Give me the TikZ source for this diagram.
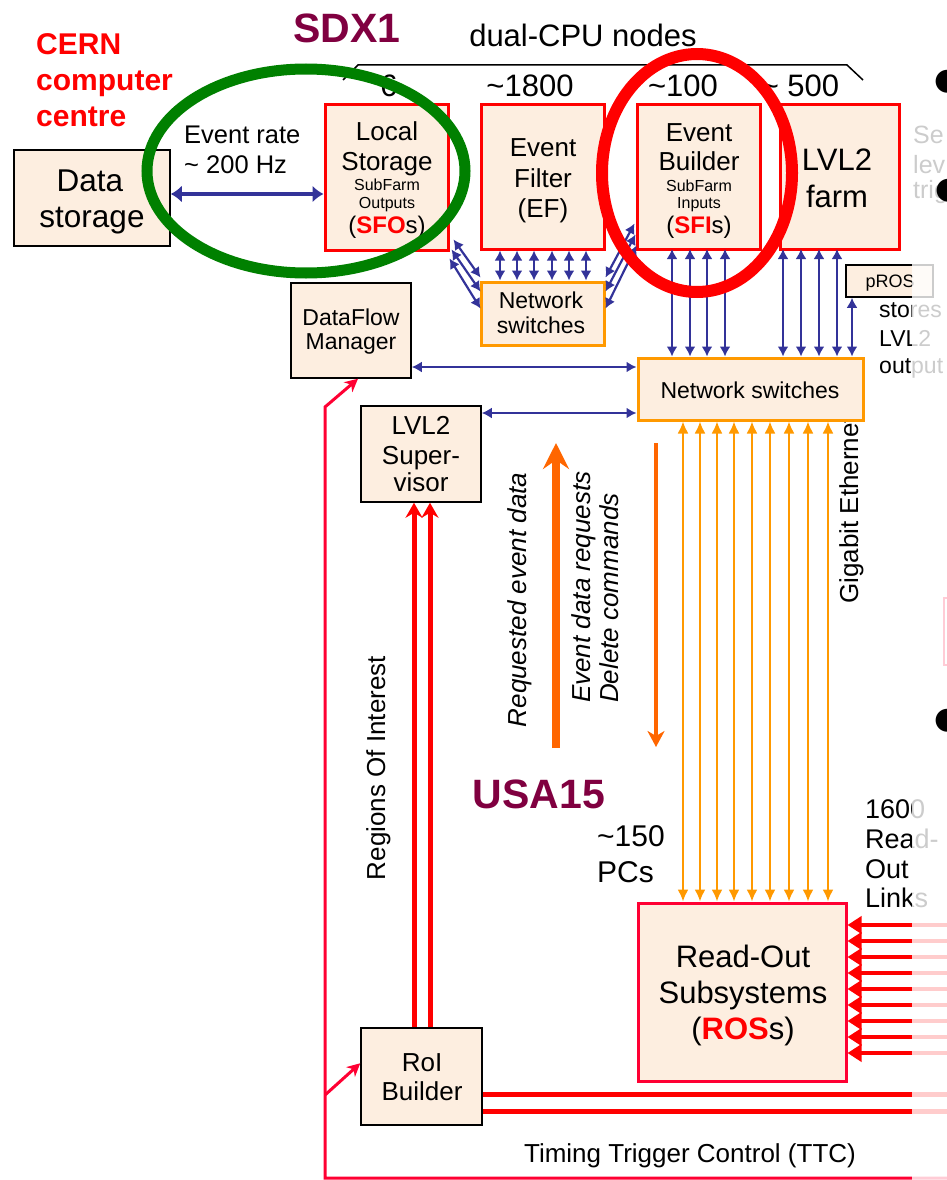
\documentclass[tikz,border=0pt]{standalone}
\usepackage{fontspec}
\setmainfont{Liberation Sans}
\newfontfamily\dejavu{DejaVu Sans}
\usetikzlibrary{arrows.meta,calc}
\definecolor{peach}{RGB}{253,238,224}
\definecolor{dblue}{RGB}{51,51,153}
\definecolor{orng}{RGB}{255,153,0}
\definecolor{dorng}{RGB}{255,102,0}
\definecolor{crim}{RGB}{255,0,51}
\definecolor{maroonc}{RGB}{128,0,64}
\definecolor{dgreen}{RGB}{0,128,0}
\newcommand\fsz[1]{\fontsize{#1}{#1}\selectfont}
\begin{document}
\begin{tikzpicture}[x=1pt,y=-1pt,
  box/.style={draw=black, fill=peach, line width=1.5pt, inner sep=0pt},
  redbox/.style={box, draw=red, line width=3pt},
  orbox/.style={box, draw=orng, line width=3pt},
  rosbox/.style={box, draw=crim, line width=3pt},
  txt/.style={inner sep=0pt, anchor=base},
  barrow/.style={draw=dblue, line width=2.2pt, arrows={Latex[length=10pt,width=11pt]-Latex[length=10pt,width=11pt]}},
  oarrow/.style={draw=orng, line width=2pt, arrows={Latex[length=12pt,width=11pt]-Latex[length=12pt,width=11pt]}},
  linkarrow/.style={draw=red, line width=4pt, arrows={-Triangle[length=14pt,width=17pt]}},
  roiarrow/.style={draw=red, line width=5pt, arrows={-Stealth[length=15pt,width=17pt,inset=5pt]}},
  ttcline/.style={draw=crim, line width=3pt},
]
\useasboundingbox (0,0) rectangle (947,1180);
\clip (0,0) rectangle (947,1180);

% ---------- headings ----------
\node[txt, anchor=base west, font=\fsz{30}\bfseries, text=red] (cern1) at (36,55) {CERN};
\node[txt, anchor=base west, font=\fsz{30}\bfseries, text=red] (cern2) at (36,91) {computer};
\node[txt, anchor=base west, font=\fsz{30}\bfseries, text=red] (cern3) at (36,127) {centre};
\node[txt, font=\fsz{41}\bfseries, text=maroonc] (sdx) at (347,43) {SDX1};
\node[txt, font=\fsz{31}] (dual) at (583,47) {dual-CPU nodes};
\draw[line width=1.5pt] (343,80) -- (358,65) -- (847,65) -- (863,80);
\node[txt, font=\fsz{31}] (n6) at (389,97) {6};
\node[txt, font=\fsz{31}] (n1800) at (530,97) {\textasciitilde1800};
\node[txt, font=\fsz{31}] (n100) at (683,97) {\textasciitilde100};
\node[txt, font=\fsz{31}] (n500) at (800,97) {\textasciitilde{} 500};
\node[txt, anchor=base west, font=\fsz{25.5}] (er1) at (184,143) {Event rate};
\node[txt, anchor=base west, font=\fsz{25.5}] (er2) at (184,173) {\textasciitilde{} 200 Hz};

% ---------- boxes ----------
\node[box, minimum width=156pt, minimum height=96pt] (ds) at (92,198) {};
\node[txt, font=\fsz{31.5}] (ds1) at (90,191) {Data};
\node[txt, font=\fsz{31.5}] (ds2) at (92,227) {storage};

\node[redbox, minimum width=123pt, minimum height=145pt] (sfo) at (386.5,177.5) {};
\node[txt, font=\fsz{26}] (sfo1) at (387,140) {Local};
\node[txt, font=\fsz{26}] (sfo2) at (387,170) {Storage};
\node[txt, font=\fsz{16}] (sfo3) at (387,190) {SubFarm};
\node[txt, font=\fsz{16}] (sfo4) at (387,208) {Outputs};
\node[txt, font=\fsz{24}] (sfo5) at (387,233) {({\bfseries\color{red}SFO}s)};

\node[redbox, minimum width=123pt, minimum height=144pt] (ef) at (542.5,177) {};
\node[txt, font=\fsz{26}] (ef1) at (543,157) {Event};
\node[txt, font=\fsz{26}] (ef2) at (543,187) {Filter};
\node[txt, font=\fsz{26}] (ef3) at (543,217) {(EF)};

\node[redbox, minimum width=123pt, minimum height=144pt] (eb) at (698.5,177) {};
\node[txt, font=\fsz{26}] (eb1) at (699,142) {Event};
\node[txt, font=\fsz{26}] (eb2) at (699,170) {Builder};
\node[txt, font=\fsz{16}] (eb3) at (699,191) {SubFarm};
\node[txt, font=\fsz{16}] (eb4) at (699,208) {Inputs};
\node[txt, font=\fsz{24}] (eb5) at (699,233) {({\bfseries\color{red}SFI}s)};

\node[redbox, minimum width=119pt, minimum height=144pt] (l2f) at (839.5,177) {};
\node[txt, font=\fsz{31}] (l2f1) at (837,170) {LVL2};
\node[txt, font=\fsz{31}] (l2f2) at (837,207) {farm};

\node[orbox, minimum width=123pt, minimum height=63pt] (ns1) at (542.5,313.5) {};
\node[txt, font=\fsz{23}] (ns1a) at (541,308) {Network};
\node[txt, font=\fsz{23}] (ns1b) at (541,333) {switches};

\node[box, minimum width=120pt, minimum height=95pt] (dfm) at (351,330.5) {};
\node[txt, font=\fsz{23}] (dfm1) at (351,325) {DataFlow};
\node[txt, font=\fsz{23}] (dfm2) at (351,349) {Manager};

\node[box, minimum width=87pt, minimum height=32pt] (pros) at (889.5,281) {};
\node[txt, font=\fsz{18}] (pros1) at (890,287) {pROS};
\node[txt, anchor=base west, font=\fsz{23}] (st1) at (879,317) {stores};
\node[txt, anchor=base west, font=\fsz{23}] (st2) at (879,346) {LVL2};
\node[txt, anchor=base west, font=\fsz{23}] (st3) at (879,373) {output};

% Gigabit Ethernet (partly hidden behind the switch box)
\node[txt, anchor=base west, rotate=90, font=\fsz{26}] (gig) at (858,604) {Gigabit Ethernet};

\node[orbox, minimum width=225pt, minimum height=62pt] (ns2) at (750.5,389) {};
\node[txt, font=\fsz{23}] (ns2a) at (750,398) {Network switches};

\node[box, minimum width=120pt, minimum height=96pt] (sup) at (421,454) {};
\node[txt, font=\fsz{26}] (sup1) at (421,434) {LVL2};
\node[txt, font=\fsz{26}] (sup2) at (421,464) {Super-};
\node[txt, font=\fsz{26}] (sup3) at (421,491) {visor};

\node[rosbox, minimum width=208pt, minimum height=178pt] (ros) at (742,992) {};
\node[txt, font=\fsz{31}] (ros1) at (743,967) {Read-Out};
\node[txt, font=\fsz{31}] (ros2) at (743,1003) {Subsystems};
\node[txt, font=\fsz{31}] (ros3) at (743,1039) {({\bfseries\color{red}ROS}s)};

\node[box, minimum width=121pt, minimum height=97pt] (rob) at (421.5,1076.5) {};
\node[txt, font=\fsz{26}] (rob1) at (422,1071) {RoI};
\node[txt, font=\fsz{26}] (rob2) at (422,1100) {Builder};

% ---------- other labels ----------
\node[txt, rotate=90, font=\fsz{26}\itshape] (req) at (526,600) {Requested event data};
\node[txt, anchor=base west, rotate=90, font=\fsz{26}\itshape] (edr1) at (590,703) {Event data requests};
\node[txt, anchor=base west, rotate=90, font=\fsz{26}\itshape] (edr2) at (618,703) {Delete commands};
\node[txt, rotate=90, font=\fsz{26}] (roi) at (385,768) {Regions Of Interest};
\node[txt, font=\fsz{41}\bfseries, text=maroonc] (usa) at (539,808) {USA15};
\node[txt, anchor=base west, font=\fsz{30}] (pc1) at (597,846) {\textasciitilde150};
\node[txt, anchor=base west, font=\fsz{30}] (pc2) at (597,882) {PCs};
\node[txt, anchor=base west, font=\fsz{27}] (rl1) at (865,818) {1600};
\node[txt, anchor=base west, font=\fsz{27}] (rl2) at (865,848) {Read-};
\node[txt, anchor=base west, font=\fsz{27}] (rl3) at (865,878) {Out};
\node[txt, anchor=base west, font=\fsz{27}] (rl4) at (865,907) {Links};
\node[txt, font=\fsz{26}] (ttc) at (690,1162) {Timing Trigger Control (TTC)};
\node[txt, anchor=base west, font=\fsz{25}] (se1) at (913,143) {Se};
\node[txt, anchor=base west, font=\fsz{25}] (se2) at (913,173) {lev};
\node[txt, anchor=base west, font=\fsz{25}] (se3) at (913,198) {trig};
\draw[draw=crim, line width=2pt] (944,598) rectangle (965,665);

% ---------- blue connectors ----------
\draw[barrow, line width=4pt, arrows={Latex[length=11pt,width=17pt]-Latex[length=11pt,width=17pt]}] (ds.east |- 0,194) -- (sfo.west |- 0,194);
\draw[barrow] (dfm.east |- 0,367) -- (ns2.west |- 0,367);
\draw[barrow] (sup.east |- 0,413) -- (ns2.west |- 0,413);
\foreach \x in {500,517,534,552,569,586}
  \draw[barrow] (ef.south -| \x,0) -- (ns1.north -| \x,0);
\foreach \x in {672,690,707,725,783,801,819,837}
  \draw[barrow] (ns2.north -| \x,0) -- (\x,249);
\draw[barrow] (pros.south -| 852,0) -- (ns2.north -| 852,0);
\draw[barrow] ([shift={(4,-12)}]sfo.south east) -- ([shift={(1,-3)}]ns1.north west);
\draw[barrow] ([shift={(2,-2)}]sfo.south east) -- ([shift={(1,11)}]ns1.north west);
\draw[barrow] ([shift={(0,7)}]sfo.south east) -- ([shift={(1,28)}]ns1.north west);
\draw[barrow] ([shift={(0,-3)}]ns1.north east) -- ([shift={(-1,-27)}]eb.south west);
\draw[barrow] ([shift={(0,11)}]ns1.north east) -- ([shift={(0,-16)}]eb.south west);
\draw[barrow] ([shift={(0,28)}]ns1.north east) -- ([shift={(1,-5)}]eb.south west);

% ---------- orange connectors ----------
\foreach \x in {683,700,717,734,752,770,789,808,828}
  \draw[oarrow] (ns2.south -| \x,0) -- (ros.north -| \x,0);
\coordinate (rqS) at (556,748);
\coordinate (rqE) at (556,443);
\draw[draw=dorng, line width=8pt, arrows={-Stealth[length=26pt,width=26pt,inset=9pt]}] (rqS) -- (rqE);
\coordinate (edS) at (656,443);
\coordinate (edE) at (656,747);
\draw[draw=dorng, line width=4pt, arrows={-Stealth[length=16pt,width=17pt,inset=5pt]}] (edS) -- (edE);

% ---------- red connectors ----------
\draw[roiarrow] (rob.north -| 414,0) -- (sup.south -| 414,0);
\draw[roiarrow] (rob.north -| 430,0) -- (sup.south -| 430,0);
\foreach \y in {925,941,957,973,989,1005,1021,1037,1053}{
  \coordinate (lk) at (947,\y);
  \draw[linkarrow] (lk) -- (ros.east |- 0,\y);
}
\coordinate (ro1) at (947,1094);
\coordinate (ro2) at (947,1111);
\draw[draw=red, line width=5pt] (rob.east |- ro1) -- (ro1);
\draw[draw=red, line width=5pt] (rob.east |- ro2) -- (ro2);
\coordinate (ttcE) at (947,1178);
\coordinate (ttcC) at (325,1178);
\coordinate (ttcB) at (325,407);
\coordinate (rbS) at (325,1095);
\draw[ttcline, arrows={-Stealth[length=13pt,width=13pt,inset=4pt]}] (ttcE) -- (ttcC) -- (ttcB) -- (dfm.south -| 358,0);
\draw[ttcline, arrows={-Stealth[length=13pt,width=13pt,inset=4pt]}] (rbS) -- ([shift={(0,36)}]rob.north west);

% ---------- highlight ellipses ----------
\draw[dgreen, line width=11pt] (306,171) ellipse [x radius=159pt, y radius=102pt];
\draw[red, line width=12pt] (697,173) ellipse [x radius=95pt, y radius=119pt];

% ---------- faded right margin ----------
\fill[white, opacity=0.8] (912,0) rectangle (947,1180);
\node[inner sep=0pt, font=\dejavu\fsz{30}] (b1) at (948,82) {●};
\node[inner sep=0pt, font=\dejavu\fsz{30}] (b2) at (949,191) {●};
\node[inner sep=0pt, font=\dejavu\fsz{30}] (b3) at (948,721) {●};
\end{tikzpicture}
\end{document}
